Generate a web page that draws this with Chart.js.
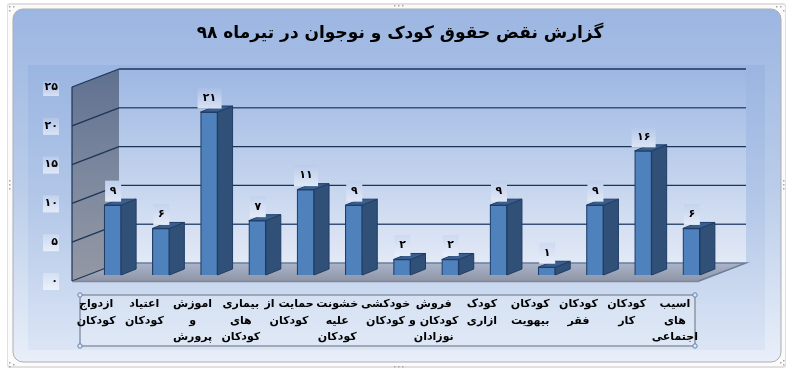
<!DOCTYPE html>
<html><head><meta charset="utf-8">
<style>html,body{margin:0;padding:0;background:#fff}canvas{display:block}</style>
<script src="https://cdn.jsdelivr.net/npm/chart.js@4"></script></head>
<body><div style="width:800px;height:384px"><canvas id="c" width="800" height="384"></canvas></div>
<script>
const chartTitle = 'گزارش نقض حقوق کودک و نوجوان در تیرماه ۹۸';
const categories = [
 ['ازدواج','کودکان'],['اعتیاد','کودکان'],['اموزش','و','پرورش'],['بیماری','های','کودکان'],
 ['حمایت از','کودکان'],['خشونت','علیه','کودکان'],['خودکشی','کودکان'],['فروش','کودکان و','نوزادان'],
 ['کودک','ازاری'],['کودکان','بیهویت'],['کودکان','فقر'],['کودکان','کار'],['اسیب','های','اجتماعی']];
const values = [9,6,21,7,11,9,2,2,9,1,9,16,6];
const yTicks = {0:'۰',5:'۵',10:'۱۰',15:'۱۵',20:'۲۰',25:'۲۵'};
const FONT = '"DejaVu Sans","Noto Sans",sans-serif';
const DX=47, DY=-18, BDX=16.5, BDY=-6, SDX=15, SDY=-6;
const fa = n => String(n).replace(/\d/g,d=>'۰۱۲۳۴۵۶۷۸۹'[d]);
function vgrad(ctx,y0,y1,stops){const g=ctx.createLinearGradient(0,y0,0,y1);stops.forEach((c,i)=>g.addColorStop(i/(stops.length-1),c));return g;}
function rr(ctx,x,y,w,h,r){ctx.beginPath();ctx.roundRect(x,y,w,h,r);}
function boxGrad(c,top,h){
  const t=Math.min(1,Math.max(0,(top-80)/200));
  const mix=(a,b,k)=>Math.round(a+(b-a)*k);
  const r0=mix(166,214,t),g0=mix(189,225,t),b0=mix(229,244,t);
  const up=.55;
  const r1=mix(r0,255,up),g1=mix(g0,255,up),b1=mix(b0,255,up);
  return vgrad(c,top,top+h,[`rgb(${r0},${g0},${b0})`,`rgb(${r1},${g1},${b1})`]);
}
const scene = {
 id:'scene',
 beforeDraw(ch){
  const c=ch.ctx,a=ch.chartArea,ys=ch.scales.y;
  c.save();
  // frame
  c.fillStyle='#e0e0e0';rr(c,7,3,779,365,3);c.fill();
  c.fillStyle='#fbfbfb';rr(c,8,5,777,361,2);c.fill();
  c.fillStyle=vgrad(c,9,362,['#9cb6e2','#b9cce9','#e9eff9']);
  rr(c,13,9,768,353,10);c.fill();
  c.strokeStyle='#adadb0';c.lineWidth=1;c.stroke();
  // sizing handle dots
  c.fillStyle='#a8a8a8';
  [[9,6],[13,6],[9,10],[776,6],[780,6],[783,10],[9,362],[13,364],[9,366],[780,362],[783,364],[783,360],
   [394,5],[398,5],[402,5],[394,366],[398,366],[402,366],[9,180],[9,184],[9,188],[783,180],[783,184],[783,188]]
   .forEach(p=>c.fillRect(p[0],p[1],1.5,1.5));
  // inner plot panel
  c.fillStyle=vgrad(c,65,350,['#9ab5e1','#b4c8e8','#dbe5f5']);
  c.fillRect(28,65,737,285);
  // back wall
  c.fillStyle=vgrad(c,a.top+DY,a.bottom+DY,['#9db7e3','#bfd0ec','#e2e9f6']);
  c.fillRect(a.left+DX,a.top+DY,a.width,a.height);
  // floor
  c.beginPath();c.moveTo(a.left,a.bottom);c.lineTo(a.left+DX,a.bottom+DY);c.lineTo(a.right+DX,a.bottom+DY);c.lineTo(a.right,a.bottom);c.closePath();
  c.fillStyle=vgrad(c,a.bottom+DY,a.bottom,['#aab4cb','#8f95a5']);c.fill();
  // left wall
  c.beginPath();c.moveTo(a.left,a.top);c.lineTo(a.left+DX,a.top+DY);c.lineTo(a.left+DX,a.bottom+DY);c.lineTo(a.left,a.bottom);c.closePath();
  c.fillStyle=vgrad(c,a.top+DY,a.bottom,['#5f7090','#7c889e','#9598a4']);c.fill();
  // gridlines
  ys.ticks.forEach(t=>{
    const y=ys.getPixelForValue(t.value);
    c.beginPath();c.moveTo(a.left,y);c.lineTo(a.left+DX,y+DY);
    c.strokeStyle='#1d3557';c.lineWidth=1.3;c.stroke();
    c.beginPath();c.moveTo(a.left+DX,y+DY);c.lineTo(a.right+DX,y+DY);
    if(t.value===0){c.lineTo(a.right,y);c.strokeStyle='#6c7d9a';}
    else c.strokeStyle=(t.value===20||t.value===5)?'#3b5278':'#1d3557';
    c.lineWidth=1.4;c.stroke();
  });
  c.strokeStyle='#80879a';c.lineWidth=1.6;c.beginPath();c.moveTo(a.left,a.bottom+.5);c.lineTo(a.right,a.bottom+.5);c.stroke();
  c.strokeStyle='#1d3557';c.lineWidth=1.2;c.beginPath();c.moveTo(a.left,a.top);c.lineTo(a.left,a.bottom);c.stroke();
  // tick label boxes
  ys.ticks.forEach(t=>{
    const y=ys.getPixelForValue(t.value);
    const top=t.value===25?y-6:y-8;
    const h=t.value===25?15:17;
    c.fillStyle=boxGrad(c,top,h);
    c.fillRect(43,top,16,h);
  });
  // category label box
  c.fillStyle='rgba(235,241,250,.3)';c.fillRect(80,295,615,51);
  c.strokeStyle='#8c95a6';c.lineWidth=1.5;c.strokeRect(80,295,615,51);
  [[80,295],[80,346],[695,295],[695,346]].forEach(p=>{
    c.beginPath();c.arc(p[0],p[1],2.2,0,7);c.fillStyle='#dfe8f6';c.fill();c.strokeStyle='#5f82b0';c.lineWidth=1;c.stroke();
  });
  c.restore();
 },
 beforeDatasetsDraw(ch){
  const c=ch.ctx,m=ch.getDatasetMeta(0);
  c.save();
  m.data.forEach(b=>{
    const l=b.x-b.width/2+BDX,r=b.x+b.width/2+BDX,t=b.y+BDY,bt=b.base+BDY;
    c.lineWidth=1;c.strokeStyle='#1f3d66';
    c.beginPath();c.moveTo(r,t);c.lineTo(r+SDX,t+SDY);c.lineTo(r+SDX,bt+SDY);c.lineTo(r,bt);c.closePath();
    c.fillStyle='#315078';c.fill();c.stroke();
    c.beginPath();c.moveTo(l,t);c.lineTo(l+SDX,t+SDY);c.lineTo(r+SDX,t+SDY);c.lineTo(r,t);c.closePath();
    c.fillStyle='#3a5f8f';c.fill();c.stroke();
  });
  c.restore();
  c.save();c.translate(BDX,BDY);
 },
 afterDatasetsDraw(ch){
  const c=ch.ctx,m=ch.getDatasetMeta(0);
  c.restore();
  c.save();
  c.textAlign='center';c.textBaseline='middle';c.font='bold 11px '+FONT;
  m.data.forEach((b,i)=>{
    const s=fa(values[i]),w=values[i]>=10?24:16,cx=b.x+BDX+.5,top=b.y+BDY-24.5,h=21;
    c.fillStyle=boxGrad(c,top,h);
    c.fillRect(cx-w/2,top,w,h);
    c.fillStyle='#000';c.fillText(s,cx,top+h/2);
  });
  c.restore();
 }
};
new Chart(document.getElementById('c'),{
 type:'bar',
 data:{labels:categories,datasets:[{data:values,backgroundColor:'#4f81bd',borderColor:'#1f3d66',borderWidth:1.2,barThickness:17}]},
 plugins:[scene],
 options:{
  responsive:false,animation:false,
  layout:{padding:0},
  plugins:{legend:{display:false},tooltip:{enabled:false},
   title:{display:true,text:chartTitle,color:'#000',font:{family:FONT,size:17,weight:'bold',lineHeight:1.2},padding:{top:23.5,bottom:43.1}}},
  scales:{
   x:{grid:{display:false,drawTicks:false},border:{display:false},
      afterFit(s){s.height=103;},
      ticks:{autoSkip:false,maxRotation:0,minRotation:0,padding:15,color:'#000',font:{family:FONT,size:11,weight:'bold',lineHeight:1.5}}},
   y:{min:0,max:25,grid:{display:false,drawTicks:false},border:{display:false},
      afterFit(s){s.width=72;},
      afterBuildTicks(s){s.ticks=Object.keys(yTicks).map(v=>({value:+v}));},
      ticks:{padding:14,color:'#000',font:{family:FONT,size:11,weight:'bold'},callback:v=>yTicks[v]}},
   rightGap:{position:'right',display:true,grid:{display:false,drawTicks:false},border:{display:false},
      ticks:{display:false},afterFit(s){s.width=101;}}
  }
 }
});
</script></body></html>
